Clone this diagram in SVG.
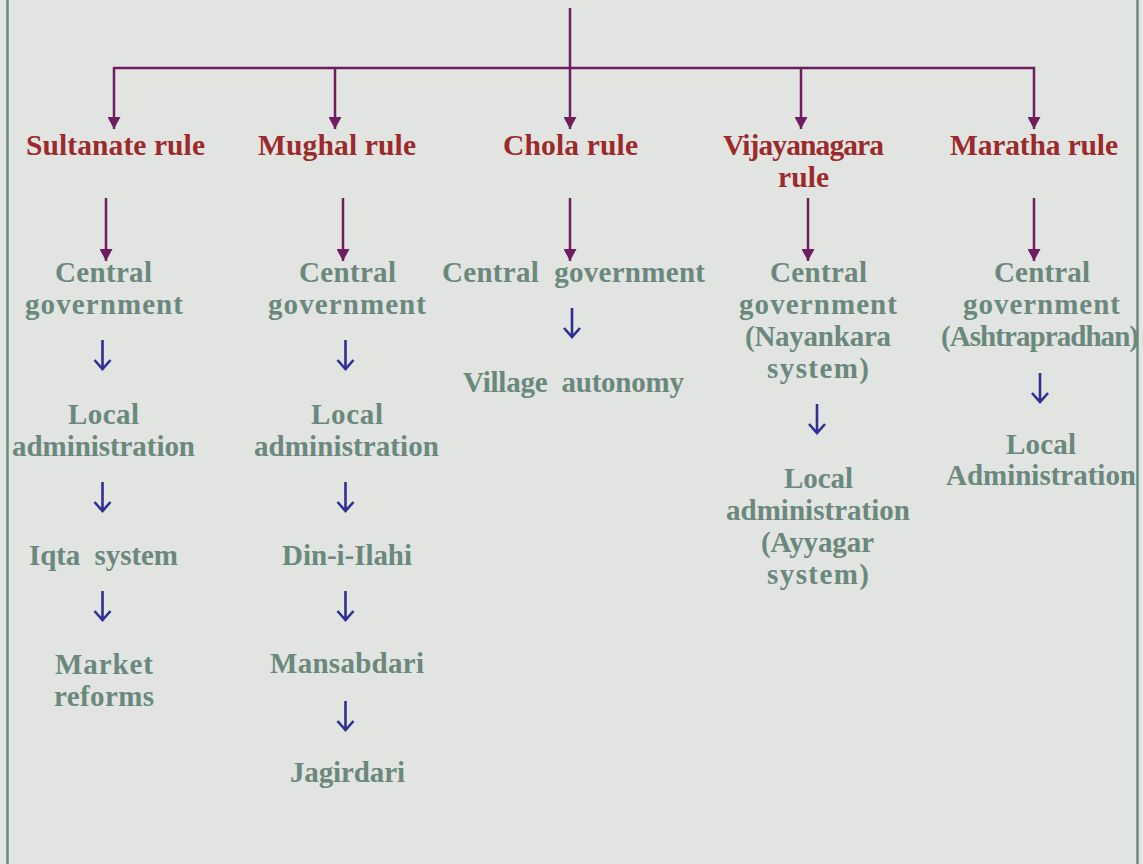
<svg xmlns="http://www.w3.org/2000/svg" width="1143" height="864" viewBox="0 0 1143 864">
<defs>
<marker id="tri" viewBox="0 0 12 13" refX="12" refY="6.5" markerWidth="12" markerHeight="13" markerUnits="userSpaceOnUse" orient="auto">
<path d="M0 0 L12 6.5 L0 13 Z" fill="#6e1d5f"/>
</marker>
<style>
.h{font-family:"Liberation Serif","Times New Roman",serif;font-weight:bold;font-size:29.5px;fill:#9b2a2c;text-anchor:middle}
.t{font-family:"Liberation Serif","Times New Roman",serif;font-weight:bold;font-size:29px;fill:#6a887c;text-anchor:middle}
.p{stroke:#6e1d5f;stroke-width:2.5;fill:none}
.b{stroke:#2e3192;stroke-width:2.6;fill:none}
</style>
</defs>
<rect x="0" y="0" width="1143" height="864" fill="#e2e4e1"/>
<line x1="7.5" y1="0" x2="7.5" y2="864" stroke="#6b8a7e" stroke-width="2.5"/>
<line x1="1137.5" y1="0" x2="1137.5" y2="864" stroke="#6b8a7e" stroke-width="2.5"/>

<g id="connectors">
<line class="p" x1="570" y1="8" x2="570" y2="129" marker-end="url(#tri)"/>
<line class="p" x1="114" y1="68" x2="1035" y2="68"/>
<line class="p" x1="114" y1="67" x2="114" y2="129" marker-end="url(#tri)"/>
<line class="p" x1="335" y1="68" x2="335" y2="129" marker-end="url(#tri)"/>
<line class="p" x1="801" y1="68" x2="801" y2="129" marker-end="url(#tri)"/>
<line class="p" x1="1034" y1="67" x2="1034" y2="129" marker-end="url(#tri)"/>
<line class="p" x1="106" y1="198" x2="106" y2="261" marker-end="url(#tri)"/>
<line class="p" x1="343" y1="198" x2="343" y2="261" marker-end="url(#tri)"/>
<line class="p" x1="570" y1="198" x2="570" y2="261" marker-end="url(#tri)"/>
<line class="p" x1="808" y1="198" x2="808" y2="261" marker-end="url(#tri)"/>
<line class="p" x1="1034" y1="198" x2="1034" y2="261" marker-end="url(#tri)"/>
<path class="b" d="M102.5 340 V369 M94.5 360 L102.5 369 L110.5 360"/>
<path class="b" d="M102.5 482 V511 M94.5 502 L102.5 511 L110.5 502"/>
<path class="b" d="M102.5 591 V620 M94.5 611 L102.5 620 L110.5 611"/>
<path class="b" d="M345.5 340 V369 M337.5 360 L345.5 369 L353.5 360"/>
<path class="b" d="M345.5 482 V511 M337.5 502 L345.5 511 L353.5 502"/>
<path class="b" d="M345.5 591 V620 M337.5 611 L345.5 620 L353.5 611"/>
<path class="b" d="M345.5 701 V730 M337.5 721 L345.5 730 L353.5 721"/>
<path class="b" d="M572 308 V337 M564 328 L572 337 L580 328"/>
<path class="b" d="M817 404 V433 M809 424 L817 433 L825 424"/>
<path class="b" d="M1040 373 V402 M1032 393 L1040 402 L1048 393"/>
</g>

<g id="sultanate">
<text class="h" x="115.5" y="155" textLength="179">Sultanate rule</text>
<text class="t" x="103.5" y="282" textLength="97">Central</text>
<text class="t" x="104" y="314" textLength="158">government</text>
<text class="t" x="103.5" y="424" textLength="71">Local</text>
<text class="t" x="103.5" y="456" textLength="183">administration</text>
<text class="t" x="103.5" y="565" textLength="149" xml:space="preserve">Iqta  system</text>
<text class="t" x="104" y="674" textLength="98">Market</text>
<text class="t" x="104" y="706" textLength="100">reforms</text>
</g>

<g id="mughal">
<text class="h" x="337" y="155" textLength="158">Mughal rule</text>
<text class="t" x="347.5" y="282" textLength="97">Central</text>
<text class="t" x="347" y="314" textLength="158">government</text>
<text class="t" x="347" y="424" textLength="72">Local</text>
<text class="t" x="346.5" y="456" textLength="185">administration</text>
<text class="t" x="347" y="565" textLength="130">Din-i-Ilahi</text>
<text class="t" x="347" y="673" textLength="154">Mansabdari</text>
<text class="t" x="347.5" y="782" textLength="115">Jagirdari</text>
</g>

<g id="chola">
<text class="h" x="570.5" y="155" textLength="135">Chola rule</text>
<text class="t" x="573.5" y="282" textLength="263" xml:space="preserve">Central  government</text>
<text class="t" x="573.5" y="392" textLength="221" xml:space="preserve">Village  autonomy</text>
</g>

<g id="vijayanagara">
<text class="h" x="803.5" y="155" textLength="161">Vijayanagara</text>
<text class="h" x="803.5" y="187" textLength="51">rule</text>
<text class="t" x="818.5" y="282" textLength="97">Central</text>
<text class="t" x="818" y="314" textLength="158">government</text>
<text class="t" x="818" y="346" textLength="146">(Nayankara</text>
<text class="t" x="818" y="378" textLength="102">system)</text>
<text class="t" x="818.5" y="488" textLength="69">Local</text>
<text class="t" x="818" y="520" textLength="184">administration</text>
<text class="t" x="817.5" y="552" textLength="113">(Ayyagar</text>
<text class="t" x="818" y="584" textLength="102">system)</text>
</g>

<g id="maratha">
<text class="h" x="1034" y="155" textLength="168">Maratha rule</text>
<text class="t" x="1042" y="282" textLength="96">Central</text>
<text class="t" x="1041.5" y="314" textLength="157">government</text>
<text class="t" x="1040" y="346" textLength="198">(Ashtrapradhan)</text>
<text class="t" x="1041" y="454" textLength="70">Local</text>
<text class="t" x="1041" y="485" textLength="190">Administration</text>
</g>
</svg>
